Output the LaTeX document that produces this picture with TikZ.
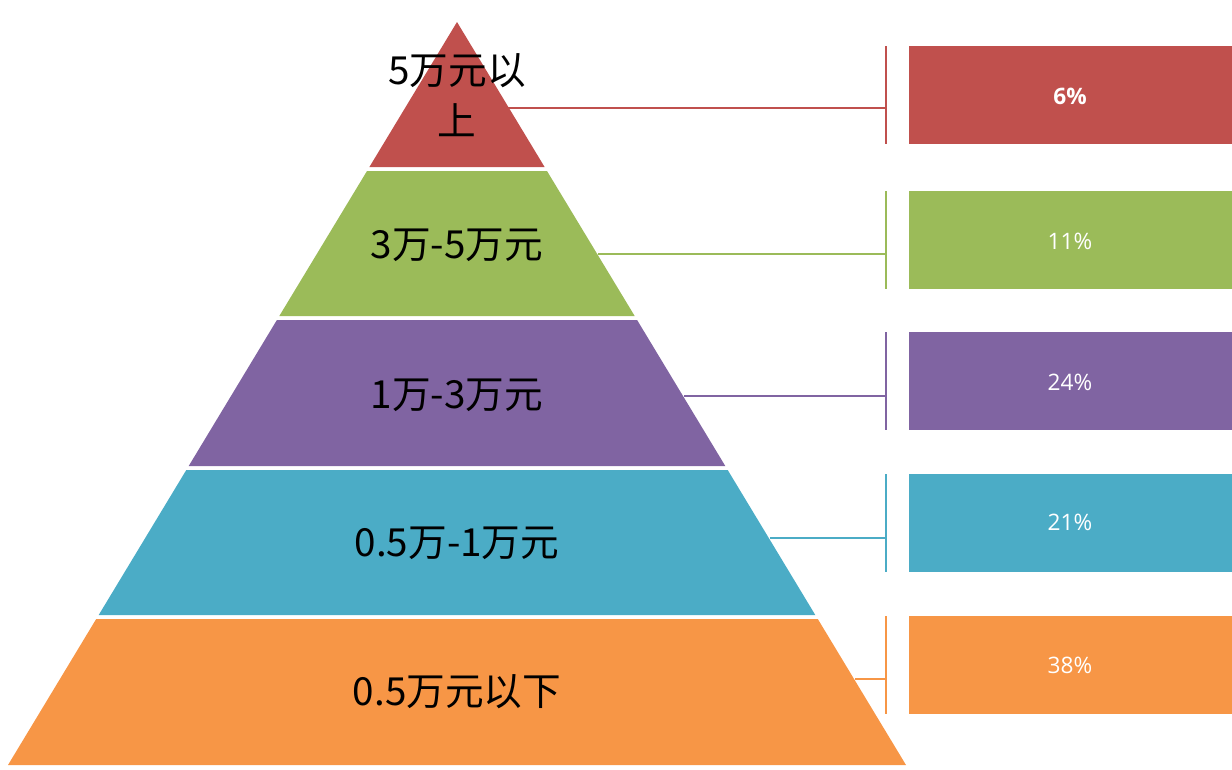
\documentclass[tikz,border=0pt]{standalone}
\usepackage{fontspec}
\newfontfamily\cjk{Noto Sans CJK SC}
\newfontfamily\pct{Open Sans}
\definecolor{cR}{HTML}{C0504D}
\definecolor{cG}{HTML}{9BBB59}
\definecolor{cP}{HTML}{8064A2}
\definecolor{cB}{HTML}{4BACC6}
\definecolor{cO}{HTML}{F79646}
\begin{document}
\begin{tikzpicture}[x=0.75pt,y=-0.75pt,
  lbl/.style={font=\cjk\fontsize{29}{38}\selectfont,text=black,align=center,inner sep=0},
  pbox/.style={minimum width=242.25pt,minimum height=73.5pt,inner sep=0,anchor=north west},
  ptxt/.style={font=\pct\fontsize{17}{20}\selectfont,text=white,inner sep=0},
  conn/.style={line width=0.8pt}]
\useasboundingbox (0,0) rectangle (1232,769);
\fill[cR] (457,22) -- (544.6,167) -- (369.4,167) -- cycle;
\fill[cG] (367,171) -- (547,171) -- (634.7,316) -- (279.3,316) -- cycle;
\fill[cP] (276.9,320) -- (637.1,320) -- (725.3,466) -- (188.7,466) -- cycle;
\fill[cB] (186.3,470) -- (727.7,470) -- (815.3,615) -- (98.7,615) -- cycle;
\fill[cO] (96.2,619) -- (817.8,619) -- (906,765) -- (8,765) -- cycle;
\node[lbl] (l1) at (457,95) {5万元以\\上};
\node[lbl] (l2) at (457,245) {3万-5万元};
\node[lbl] (l3) at (457,395) {1万-3万元};
\node[lbl] (l4) at (457,543) {0.5万-1万元};
\node[lbl] (l5) at (457,692) {0.5万元以下};
\foreach \i/\c/\yt/\yl/\xs/\t/\ty in {1/cR/46/108/505/{\textbf{6\%}}/96,2/cG/191/254/598/{11\%}/241,3/cP/332/396/684/{24\%}/382,4/cB/474/538/770/{21\%}/522,5/cO/616/679/855/{38\%}/665}{
  \node[pbox,fill=\c] (b\i) at (909,\yt) {};
  \node[ptxt] (t\i) at (1070,\ty) {\t};
  \coordinate (s\i) at (\xs,\yl);
  \coordinate (e\i) at (886,\yl);
  \coordinate (bt\i) at (886,\yt);
  \coordinate (bb\i) at (886,\yt+98);
  \draw[conn,\c] (s\i) -- (e\i);
  \draw[conn,\c] (bt\i) -- (bb\i);
}
\end{tikzpicture}
\end{document}
